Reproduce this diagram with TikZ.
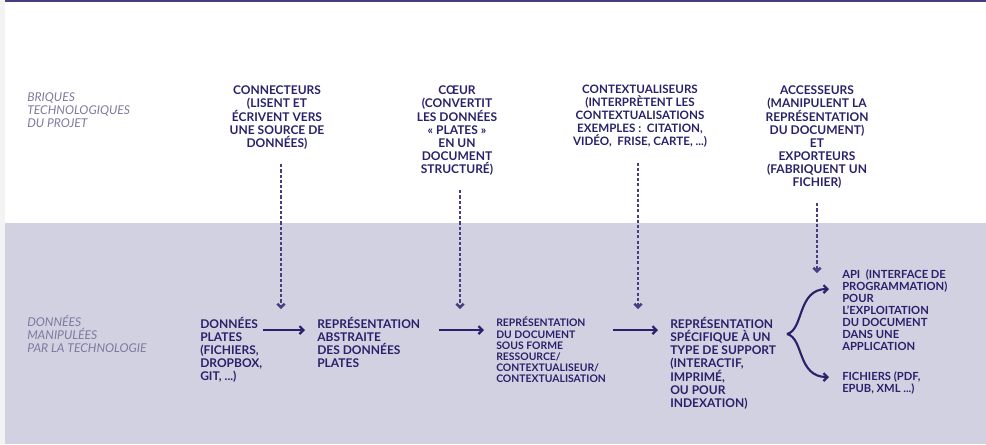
\documentclass[tikz,border=0pt]{standalone}
\usepackage{fontspec}
\setmainfont{Lato}
\usetikzlibrary{arrows.meta,positioning}
\definecolor{ink}{HTML}{29216A}
\definecolor{dots}{HTML}{463E7E}
\definecolor{band}{HTML}{D2D1E2}
\definecolor{legendtext}{HTML}{7D799E}
\definecolor{strip}{HTML}{F3F3F3}
\tikzset{
  brick/.style={font=\bfseries\fontsize{9}{9.75}\selectfont, text=ink, align=center, inner sep=0pt, anchor=north},
  datum/.style={font=\bfseries\fontsize{9}{9.75}\selectfont, text=ink, align=left, inner sep=0pt, anchor=north west},
  smalldatum/.style={datum, font=\bfseries\fontsize{7.8}{8.4}\selectfont},
  apidatum/.style={datum, font=\bfseries\fontsize{8.4}{9}\selectfont},
  legend/.style={font=\itshape\fontsize{9.1}{9.75}\selectfont, text=legendtext, align=left, inner sep=0pt, anchor=north west},
  feed/.style={dots, line width=1.9pt, dash pattern=on 2.3pt off 1.6pt, shorten <=11pt, -{Straight Barb[length=2.6pt,width=5.5pt]}},
  flow/.style={ink, line width=1.6pt, -{Straight Barb[length=3pt,width=6pt]}},
}
\begin{document}
\begin{tikzpicture}[x=0.75pt,y=-0.75pt]
\useasboundingbox (0,0) rectangle (986,444);
% background
\fill[band] (5,223) rectangle (986,444);
\fill[strip] (0,0) rectangle (5,444);
\draw[dots, line width=1.5pt] (5,1) -- (986,1);

% legends
\node[legend] (briques) at (27,92) {BRIQUES\\TECHNOLOGIQUES\\DU PROJET};
\node[legend] (manip) at (27,315) {DONNÉES\\MANIPULÉES\\PAR LA TECHNOLOGIE};

% briques
\node[brick] (connect) at (277,85) {CONNECTEURS\\(LISENT ET\\ÉCRIVENT VERS\\UNE SOURCE DE\\DONNÉES)};
\node[brick] (coeur) at (457,85) {CŒUR\\(CONVERTIT\\LES DONNÉES\\« PLATES »\\EN UN\\DOCUMENT\\STRUCTURÉ)};
\node[brick, font=\bfseries\fontsize{8.7}{9.75}\selectfont] (context) at (640,85) {CONTEXTUALISEURS\\(INTERPRÈTENT LES\\CONTEXTUALISATIONS\\EXEMPLES :\ \ CITATION,\\VIDÉO,\ \ FRISE, CARTE, ...)};
\node[brick] (access) at (817,85) {ACCESSEURS\\(MANIPULENT LA\\REPRÉSENTATION\\DU DOCUMENT)\\ET\\EXPORTEURS\\(FABRIQUENT UN\\FICHIER)};

% donnees
\node[datum] (plates) at (200,317) {DONNÉES\\PLATES\\(FICHIERS,\\DROPBOX,\\GIT, ...)};
\node[datum] (abstraite) at (317,317) {REPRÉSENTATION\\ABSTRAITE\\DES DONNÉES\\PLATES};
\node[smalldatum] (ressource) at (496,317) {REPRÉSENTATION\\DU DOCUMENT\\SOUS FORME\\RESSOURCE/\\CONTEXTUALISEUR/\\CONTEXTUALISATION};
\node[datum] (support) at (670,317) {REPRÉSENTATION\\SPÉCIFIQUE À UN\\TYPE DE SUPPORT\\(INTERACTIF,\\IMPRIMÉ,\\OU POUR\\INDEXATION)};
\node[apidatum] (api) at (842,269) {API\ \ (INTERFACE DE\\PROGRAMMATION)\\POUR\\L’EXPLOITATION\\DU DOCUMENT\\DANS UNE\\APPLICATION};
\node[apidatum] (fichiers) at (842,371) {FICHIERS (PDF,\\EPUB, XML ...)};

% arrows
\coordinate (flowrow) at (0,330);
\draw[flow] ([xshift=0.5pt]plates.east |- flowrow) -- ([xshift=-9pt]abstraite.west |- flowrow);
\draw[flow] ([xshift=14pt]abstraite.east |- flowrow) -- ([xshift=-9pt]ressource.west |- flowrow);
\draw[flow] ([xshift=5pt]ressource.east |- flowrow) -- ([xshift=-9pt]support.west |- flowrow);

\coordinate (fork) at (787,334);
\coordinate (tipapi) at (829,289);
\coordinate (tipfile) at (829,377);
\draw[flow] (fork) .. controls (804,330) and (797,289) .. (tipapi);
\draw[flow] (fork) .. controls (804,338) and (797,377) .. (tipfile);

% dotted feeds
\coordinate (drop1) at (281,309);
\coordinate (drop2) at (460,309);
\coordinate (drop3) at (638,309);
\coordinate (drop4) at (817,273);
\draw[feed] (connect.south -| drop1) -- (drop1);
\draw[feed] (coeur.south -| drop2) -- (drop2);
\draw[feed] (context.south -| drop3) -- (drop3);
\draw[feed] (access.south -| drop4) -- (drop4);
\end{tikzpicture}
\end{document}
